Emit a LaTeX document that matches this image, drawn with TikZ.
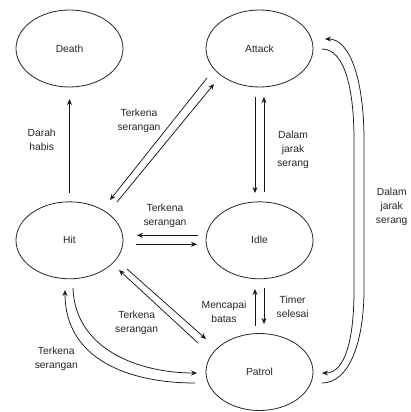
\documentclass[tikz,border=0pt]{standalone}
\usepackage{fontspec}
\setmainfont{Liberation Sans}
\usetikzlibrary{shapes.geometric,arrows.meta,calc}
\begin{document}
\begin{tikzpicture}[x=1pt,y=-1pt,
  state/.style={ellipse,draw=black!85,line width=0.8pt,minimum width=107pt,minimum height=77pt,inner sep=0pt,text=black!85,font=\fontsize{10.3}{13.7}\selectfont},
  lbl/.style={align=center,inner sep=0pt,text=black!85,font=\fontsize{10.3}{13.7}\selectfont},
  arr/.style={line width=0.75pt,draw=black!90,-{Stealth[length=6pt,width=5pt]}}]
\useasboundingbox[fill=white] (0,0) rectangle (411,412);

\node[state] (death)  at (69.5,48.5)  {Death};
\node[state] (attack) at (259.5,48.5) {Attack};
\node[state] (hit)    at (69.5,240.3) {Hit};
\node[state] (idle)   at (259.5,240.3){Idle};
\node[state] (patrol) at (259.5,372)  {Patrol};

% Hit -> Death
\draw[arr] ($(hit)+(0,-47.3)$) -- ($(death)+(0,50.5)$);
% Attack <-> Hit
\draw[arr] ($(attack)+(-52.5,29.5)$) -- ($(hit)+(40.5,-40.3)$);
\draw[arr] ($(hit)+(47.5,-38.3)$) -- ($(attack)+(-45.5,35.5)$);
% Attack <-> Idle
\draw[arr] ($(attack)+(-4.5,48.5)$) -- ($(idle)+(-4.5,-47.3)$);
\draw[arr] ($(idle)+(4.5,-48.3)$) -- ($(attack)+(4.5,48.5)$);
% Idle <-> Hit
\draw[arr] ($(idle)+(-61.5,-5)$) -- ($(hit)+(67.5,-5)$);
\draw[arr] ($(hit)+(66.5,4)$) -- ($(idle)+(-62.5,4)$);
% Patrol <-> Hit (straight)
\draw[arr] ($(patrol)+(-61.5,-29)$) -- ($(hit)+(49.5,29.7)$);
\draw[arr] ($(hit)+(57.5,28.7)$) -- ($(patrol)+(-53.5,-33)$);
% Patrol <-> Idle
\draw[arr] ($(patrol)+(-4.5,-46)$) -- ($(idle)+(-4.5,48.7)$);
\draw[arr] ($(idle)+(4.5,47.7)$) -- ($(patrol)+(4.5,-48)$);
% Patrol <-> Hit (curved)
\draw[arr] ($(patrol)+(-64.5,11)$) .. controls (130,383) and (65,360) .. ($(hit)+(-4.5,49.7)$);
\draw[arr] ($(hit)+(3.5,47.7)$) .. controls (75,350) and (140,373) .. ($(patrol)+(-62.5,1)$);
% Attack <-> Patrol (right)
\draw[arr] ($(attack)+(62.5,0.5)$) .. controls (345,49) and (354,90) .. (354,140) -- (354,290) .. controls (354,340) and (345,373) .. ($(patrol)+(62.5,1)$);
\draw[arr] ($(patrol)+(62.5,11)$) .. controls (350,383) and (364,340) .. (364,290) -- (364,140) .. controls (364,80) and (350,39) .. ($(attack)+(65.5,-9.5)$);

% labels
\node[lbl] (l1) at (41.7,140)  {Darah\\habis};
\node[lbl] (l2) at (139,120.5) {Terkena\\serangan};
\node[lbl] (l3) at (293,150)   {Dalam\\jarak\\serang};
\node[lbl] (l4) at (165,216)   {Terkena\\serangan};
\node[lbl] (l5) at (136.7,322.5) {Terkena\\serangan};
\node[lbl] (l6) at (224,311.5) {Mencapai\\batas};
\node[lbl] (l7) at (292.7,307) {Timer\\selesai};
\node[lbl] (l8) at (56.3,358.5) {Terkena\\serangan};
\node[lbl] (l9) at (391.7,207) {Dalam\\jarak\\serang};
\end{tikzpicture}
\end{document}
